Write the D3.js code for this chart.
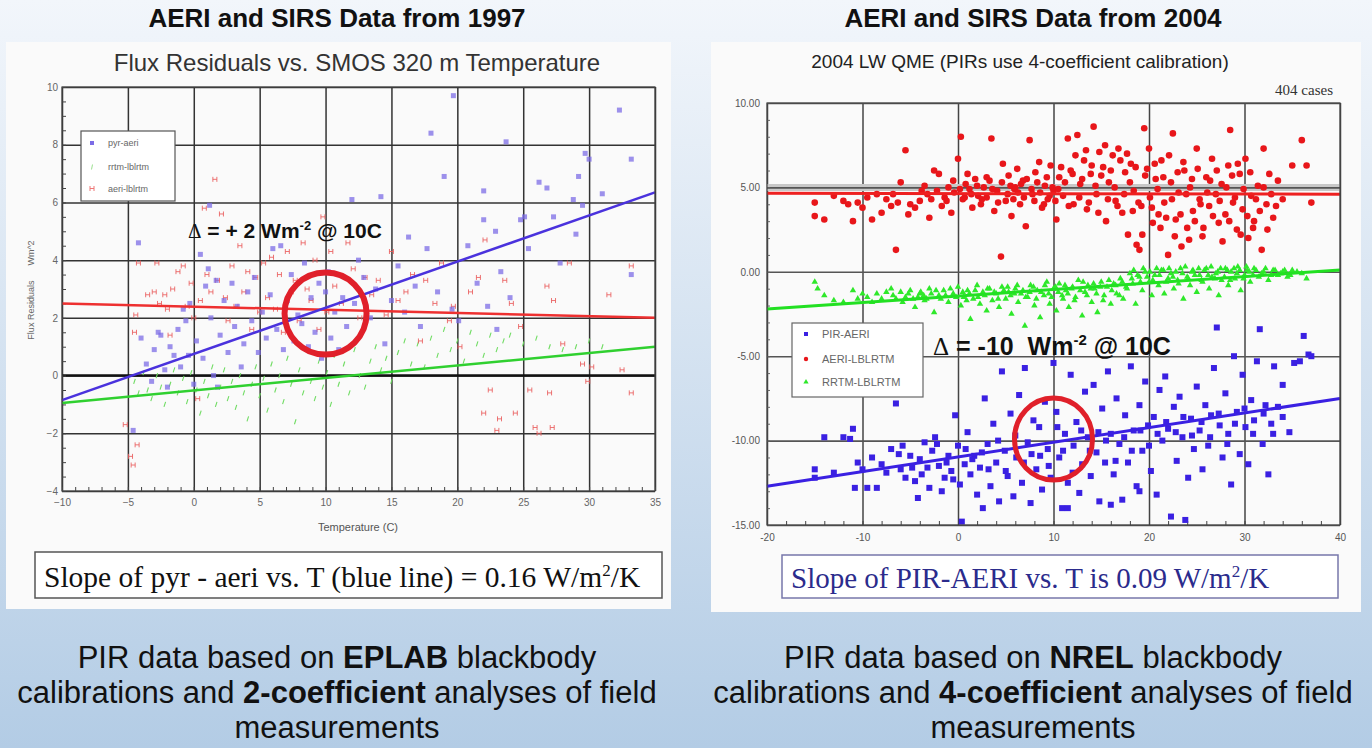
<!DOCTYPE html>
<html>
<head>
<meta charset="utf-8">
<script src="https://cdn.jsdelivr.net/npm/d3@7"></script>
<style>
  html, body { margin: 0; padding: 0; }
  body { width: 1372px; height: 748px; overflow: hidden; font-family: "Liberation Sans", Arial, sans-serif; }
</style>
</head>
<body>
<svg id="slide" width="1372" height="748"></svg>
<script>
// ---------- data: 1997 chart (left) ----------
const pyrAeri = [[-4.6,-1.9],[-4.2,4.6],[-4.0,1.3],[-3.6,0.4],[-3.2,-0.2],[-3.0,0.9],[-2.7,1.5],[-2.5,1.4],[-2.2,0.2],[-2.0,-0.4],[-1.8,1.0],[-1.5,0.7],[-1.2,1.6],[-1.0,0.3],[-0.8,2.3],[-0.6,1.9],[-0.4,0.7],[-0.3,2.5],[0.0,-0.3],[0.2,1.2],[0.5,4.2],[0.7,0.6],[0.9,3.1],[1.1,3.7],[1.2,5.9],[1.3,2.0],[1.5,0.0],[1.7,3.3],[1.8,-0.4],[2.0,1.4],[2.3,2.6],[2.6,0.8],[2.9,3.2],[3.1,1.7],[3.3,2.4],[3.6,0.3],[3.8,1.1],[4.1,2.9],[4.4,1.9],[4.6,3.4],[4.9,0.8],[5.2,2.2],[5.5,1.3],[5.8,2.8],[6.0,4.4],[6.3,1.6],[6.6,4.5],[6.8,0.9],[7.1,2.6],[7.4,3.5],[7.6,1.2],[7.9,2.1],[8.2,1.8],[8.4,3.9],[8.7,1.0],[8.9,2.7],[9.2,1.5],[9.5,3.2],[9.7,0.6],[10.0,2.9],[10.2,3.6],[10.4,1.3],[10.7,2.2],[11.0,0.9],[11.3,2.7],[11.6,1.7],[12.0,6.1],[12.2,2.5],[12.5,4.0],[12.9,3.4],[13.4,2.0],[13.8,3.0],[14.2,6.2],[14.5,1.1],[15.0,2.6],[15.5,3.8],[16.0,2.2],[16.3,4.8],[16.8,3.1],[17.2,1.7],[17.7,4.4],[18.0,8.4],[18.5,2.9],[19.0,6.9],[19.6,2.3],[19.7,9.7],[20.1,1.9],[20.8,4.5],[21.5,3.2],[22.0,5.4],[22.0,6.4],[22.3,2.4],[22.9,5.0],[23.0,1.6],[23.3,3.6],[23.7,8.1],[24.0,2.7],[24.8,5.4],[25.1,5.5],[25.4,4.4],[26.2,6.7],[26.8,6.5],[27.3,5.5],[27.8,3.9],[28.8,6.1],[29.0,4.9],[29.2,6.9],[29.5,5.9],[29.7,7.7],[30.0,7.5],[31.0,6.3],[32.3,9.2],[33.2,7.5],[33.2,3.5]];
const rrtmLblrtm = [[-4.5,-0.2],[-4.2,-0.6],[-3.8,0.1],[-3.5,-0.5],[-3.2,-0.8],[-2.8,0.0],[-2.5,-0.4],[-2.2,-1.0],[-1.8,-0.3],[-1.5,0.2],[-1.2,-0.6],[-0.8,-0.1],[-0.5,-0.9],[-0.2,0.1],[0.2,-0.5],[0.5,-1.3],[0.8,-0.2],[1.1,-0.7],[1.4,0.3],[1.7,-1.0],[2.0,-0.4],[2.3,0.2],[2.6,-0.8],[2.9,-0.2],[3.2,-1.1],[3.5,0.0],[3.8,-0.6],[4.1,-1.5],[4.4,-0.3],[4.7,0.3],[5.0,-0.7],[5.3,-0.1],[5.6,-1.2],[5.9,0.4],[6.2,-0.5],[6.5,0.0],[6.8,-0.9],[7.1,0.6],[7.4,-0.3],[7.7,-1.6],[8.0,0.2],[8.3,-0.6],[8.6,0.9],[8.9,-0.2],[9.2,-0.8],[9.5,0.5],[9.8,-0.4],[10.1,0.1],[10.4,-1.0],[10.7,0.7],[11.0,-0.3],[11.4,0.4],[11.8,-0.6],[12.2,0.9],[12.6,0.0],[13.0,-0.4],[13.4,0.5],[13.8,1.0],[14.2,0.2],[14.6,0.6],[15.0,-0.2],[15.5,0.8],[16.0,1.2],[16.5,0.4],[17.0,1.1],[17.5,0.3],[18.0,1.3],[18.5,0.7],[19.0,1.6],[19.5,0.9],[20.0,1.2],[20.5,0.5],[21.0,1.5],[21.5,1.1],[22.0,0.7],[22.5,1.4],[23.0,0.9],[23.5,1.2],[24.0,1.4],[25.0,1.1],[26.0,1.3],[27.0,1.0],[28.0,0.9],[29.0,1.0],[30.0,1.2],[31.0,1.0]];
const aeriLblrtm = [[-5.2,-1.7],[-4.8,-2.8],[-4.6,-3.1],[-4.3,-2.4],[-4.5,1.5],[-4.2,3.9],[-4.4,2.1],[-3.5,2.8],[-3.0,2.9],[-2.8,3.9],[-2.6,2.5],[-2.2,2.8],[-2.0,2.3],[-1.8,1.4],[-1.6,3.0],[-1.2,3.6],[-0.8,3.8],[-0.5,2.4],[-0.2,3.2],[0.0,2.0],[0.3,-0.8],[0.5,2.6],[0.8,5.8],[1.0,3.5],[1.3,2.9],[1.6,6.8],[1.8,3.3],[2.1,5.6],[2.4,2.7],[2.6,1.9],[2.9,3.8],[3.2,2.4],[3.5,4.5],[3.8,2.9],[4.1,3.6],[4.4,1.6],[4.7,3.4],[5.0,2.2],[5.3,3.9],[5.6,2.7],[5.9,4.1],[6.2,2.3],[6.5,3.5],[6.8,1.5],[7.1,4.3],[7.4,2.9],[7.7,3.3],[8.0,1.9],[8.3,4.6],[8.6,3.0],[8.9,2.6],[9.2,4.0],[9.5,1.6],[9.8,5.5],[10.1,2.2],[10.4,4.3],[10.7,3.1],[11.2,2.5],[11.7,4.6],[12.1,3.7],[12.6,2.0],[13.0,3.4],[13.5,2.8],[14.0,3.3],[14.6,2.1],[15.0,4.3],[15.5,2.6],[16.1,2.9],[16.6,3.5],[17.2,1.2],[17.6,3.3],[18.3,2.5],[18.8,3.9],[19.4,1.9],[19.7,2.4],[20.2,1.0],[21.0,2.9],[21.6,3.4],[22.0,-1.3],[22.1,4.7],[22.5,-0.5],[23.0,-1.9],[23.2,-1.5],[23.6,3.3],[24.1,2.5],[24.4,-1.3],[24.8,1.7],[25.5,-0.5],[25.9,-1.8],[26.2,-2.0],[26.8,3.1],[27.0,-0.6],[27.2,-1.8],[27.3,2.6],[28.0,1.1],[28.5,3.9],[29.5,0.4],[29.9,-0.2],[30.2,0.3],[31.5,2.8],[32.5,0.2],[33.2,3.8],[33.2,-0.6]];
const fitPyrAeri = [[-10,-0.85],[35,6.35]];
const fitRrtm = [[-10,-0.95],[35,1.0]];
const fitAeri = [[-10,2.5],[35,2.0]];
const xTicksL = [-10,-5,0,5,10,15,20,25,30,35];
const yTicksL = [-4,-2,0,2,4,6,8,10];

// ---------- data: 2004 chart (right) ----------
const pirAeri = [[-15,-11.7],[-15,-12.2],[-14,-9.8],[-12,-9.8],[-11.3,-9.9],[-11,-9.3],[-10.8,-12.8],[-10.5,-11.3],[-9.5,-12.8],[-9,-11],[-8.5,-12.8],[-8,-11.4],[-7,-10.5],[-6.5,-7.8],[-6.2,-10.8],[-6,-11.7],[-5.5,-12.2],[-5,-10.9],[-4.5,-12.4],[-4.2,-13.4],[-4,-11.1],[-3.5,-10.1],[-3.2,-11.6],[-3,-12.8],[-2.7,-10.6],[-2.4,-9.8],[-2,-11.5],[-1.7,-13.0],[-1.4,-12.2],[-1,-10.9],[-0.7,-11.8],[-0.3,-8.5],[0,-10.3],[0.2,-12.6],[0.4,-14.8],[0.7,-11.4],[1,-9.5],[1.3,-12.0],[1.7,-10.9],[2,-13.2],[2.3,-11.6],[2.6,-14.0],[2.8,-7.5],[3.1,-10.2],[3.4,-12.7],[3.7,-9.0],[4,-11.3],[4.3,-13.6],[4.6,-5.9],[4.9,-10.6],[5.2,-12.1],[5.5,-8.4],[5.8,-13.3],[6.1,-11.0],[6.4,-7.3],[6.7,-12.5],[7,-5.7],[7.3,-10.1],[7.6,-13.7],[7.9,-8.8],[8.2,-11.7],[8.5,-9.2],[8.8,-12.9],[9.1,-7.7],[9.4,-10.5],[9.7,-12.2],[10,-5.4],[10.3,-8.3],[10.6,-11.0],[10.9,-14.0],[11.2,-9.6],[11.5,-12.5],[11.8,-6.1],[12.1,-10.3],[12.4,-8.9],[12.7,-13.1],[13,-11.4],[13.3,-7.1],[13.6,-9.8],[13.9,-12.1],[14.2,-6.7],[14.5,-10.7],[14.8,-13.6],[15.1,-8.1],[15.4,-11.3],[15.7,-5.9],[16,-9.6],[16.3,-12.0],[16.6,-7.5],[16.9,-10.2],[17.2,-13.5],[17.5,-8.5],[17.8,-11.3],[18.1,-5.6],[18.4,-9.4],[18.7,-12.7],[19,-7.9],[19.3,-10.6],[19.6,-6.5],[19.9,-9.1],[20.2,-11.8],[20.5,-8.6],[20.8,-13.2],[21.1,-7.0],[21.4,-10.0],[21.7,-6.2],[22,-9.3],[22.3,-14.5],[22.6,-8.0],[22.9,-11.2],[23.2,-7.4],[23.5,-9.8],[23.8,-14.7],[24.1,-12.2],[24.4,-8.7],[24.7,-10.5],[25,-6.8],[25.3,-9.4],[25.6,-11.7],[25.9,-7.9],[26.2,-10.3],[26.5,-8.5],[26.8,-5.7],[27.1,-3.3],[27.4,-9.1],[27.7,-11.0],[28,-7.2],[28.3,-9.6],[28.6,-12.6],[28.9,-5.0],[29.2,-8.3],[29.5,-10.8],[29.8,-6.1],[30.1,-9.2],[30.4,-11.4],[30.7,-7.6],[31,-8.8],[31.3,-5.3],[31.6,-3.4],[31.9,-10.2],[32.2,-7.9],[32.5,-12.0],[32.8,-9.0],[33.1,-5.6],[33.5,-8.0],[34,-6.7],[34.7,-9.5],[35.2,-5.4],[35.8,-5.3],[36.2,-3.8],[36.7,-4.9],[37,-5.0],
  [-13,-11.9],[-10,-11.7],[-7.5,-11.9],[-5.8,-10.3],[-4.8,-11.6],[-3.8,-12.0],[-2.2,-10.2],[-1.2,-11.3],[-0.5,-12.3],[0.8,-10.5],[1.5,-11.1],[2.5,-10.7],[3.2,-11.7],[4.2,-10.0],[5.0,-11.8],[6.0,-9.7],[6.9,-11.3],[7.7,-10.8],[8.6,-10.9],[9.5,-11.5],[10.4,-9.2],[11.0,-10.6],[12.0,-11.9],[12.9,-9.4],[13.8,-10.6],[14.7,-9.5],[15.5,-10.0],[16.5,-11.2],[17.4,-9.8],[18.2,-10.6],[19.1,-9.4],[20.0,-10.3],[20.9,-9.6],[21.8,-8.9],[22.8,-9.5],[23.6,-8.6],[24.5,-9.7],[25.5,-8.9],[26.4,-9.8],[27.3,-8.4],[28.2,-10.2],[29.0,-9.0],[30.0,-8.1],[30.9,-9.6],[32.0,-8.4],[33.0,-9.6],[34.0,-8.6],[16.0,-13.8],[19.0,-13.0],[11.5,-14.0]];
const aeriLbl = [[-15,4.1],[-15,3.3],[-14,3.1],[-12,4.2],[-11.5,4.0],[-11,3.0],[-10.5,4.1],[-10,3.8],[-9,3.1],[-8.5,4.6],[-8,3.5],[-7.5,4.3],[-7,3.9],[-6.5,1.3],[-6.3,4.1],[-6,5.3],[-5.5,7.2],[-5.2,3.4],[-5,4.0],[-4.5,3.8],[-4,4.2],[-3.5,5.1],[-3.2,4.6],[-3,3.2],[-2.5,6.0],[-2.2,4.8],[-2,5.8],[-1.7,3.9],[-1.4,4.4],[-1,5.0],[-0.7,3.5],[-0.4,4.7],[0,6.7],[0.3,8.0],[0.5,4.3],[0.8,5.2],[1.2,4.9],[1.5,3.8],[1.8,5.5],[2.1,4.5],[2.4,4.0],[2.7,5.0],[3.0,4.4],[3.3,5.4],[3.5,7.9],[3.8,3.6],[4.1,4.8],[4.5,0.9],[4.7,6.4],[5.0,4.2],[5.3,5.7],[5.6,3.3],[5.9,4.9],[6.2,6.1],[6.5,4.0],[6.8,5.4],[7.1,2.7],[7.5,7.8],[7.8,4.6],[8.1,5.9],[8.5,6.5],[8.8,3.8],[9.1,5.1],[9.4,4.3],[9.7,6.3],[10,4.8],[10.3,3.1],[10.6,5.6],[11,4.5],[11.5,7.9],[11.8,6.0],[12.1,4.0],[12.5,8.1],[12.8,5.2],[13.2,6.6],[13.5,3.7],[13.9,5.8],[14.2,8.6],[14.5,4.6],[14.8,7.1],[15.2,6.2],[15.5,3.0],[15.8,5.3],[16.2,6.9],[16.5,4.2],[16.8,7.3],[17.2,3.5],[17.5,5.9],[17.8,2.2],[18.1,6.4],[18.4,4.8],[18.7,1.6],[19,1.3],[19.2,3.9],[19.5,8.5],[19.8,6.1],[20.1,4.4],[20.4,2.9],[20.7,5.5],[21,3.4],[21.3,6.6],[21.6,4.1],[22,1.0],[22.3,5.3],[22.5,8.2],[22.8,3.1],[23.1,4.7],[23.4,1.5],[23.7,6.0],[24,2.6],[24.3,5.0],[24.6,3.6],[25,7.3],[25.3,4.3],[25.6,2.1],[26,5.6],[26.3,3.9],[26.6,6.7],[27,4.6],[27.3,2.9],[27.6,5.2],[28,3.4],[28.3,6.3],[28.5,8.4],[28.8,4.1],[29.2,2.5],[29.5,5.8],[29.8,3.7],[30.1,6.7],[30.4,2.0],[30.7,4.5],[31,3.0],[31.4,5.1],[31.8,1.3],[32,7.3],[32.3,4.0],[32.6,5.8],[33,3.2],[33.5,5.4],[34,4.3],[35,6.3],[36,7.8],[36.5,6.3],[37,4.1],
  [5.2,4.6],[5.5,5.1],[5.8,4.3],[6.0,5.0],[6.3,4.7],[6.6,5.2],[6.9,4.4],[7.2,5.5],[7.7,4.9],[8.0,4.2],[8.3,5.3],[8.6,4.7],[9.0,4.0],[9.3,5.6],[9.6,4.5],[9.9,5.0],[10.2,4.2],[10.5,4.9],[10.8,6.2],[11.2,5.3],[11.6,3.9],[12.0,5.8],[12.3,6.9],[12.7,4.4],[13.0,5.5],[13.4,7.2],[13.7,4.1],[14.0,6.3],[14.4,5.1],[14.7,3.5],[15.0,5.7],[15.4,7.5],[15.7,4.3],[16.0,6.0],[16.4,5.0],[16.7,3.9],[17.0,6.6],[17.4,4.6],[17.7,7.0],[18.0,5.3],[18.3,3.6],[18.6,6.2],[18.9,4.1],[19.3,2.2],[19.6,5.7],[20.0,7.3],[20.3,3.8],[20.6,6.4],[20.9,4.9],[21.2,2.6],[21.5,5.6],[21.8,3.2],[22.1,6.9],[22.4,4.3],[22.7,2.1],[23.0,5.9],[23.3,3.4],[23.6,6.5],[23.9,4.6],[24.2,1.9],[24.5,5.5],[24.8,3.0],[25.1,6.1],[25.4,4.0],[25.7,2.6],[26.1,4.7],[26.4,5.4],[26.7,3.3],[27.1,6.0],[27.4,4.2],[27.7,1.8],[28.1,5.0],[28.4,3.0],[28.7,5.7],[29.0,4.4],[29.3,6.4],[29.6,2.2],[29.9,4.9],[30.3,3.3],[30.6,5.9],[30.9,2.6],[31.2,4.3],[31.6,3.6],[32.0,5.0],[32.4,2.5],[32.8,4.6],[33.3,3.9],[-1.2,4.2],[-0.5,5.4],[0.2,4.9],[0.7,4.4],[1.0,5.8],[1.4,4.6],[2.0,5.1],[2.5,4.3],[3.0,5.6],[3.6,4.9],[4.2,4.1],[4.6,5.3],[-3.8,4.8],[-2.8,4.3],[-6.8,4.6],[-9.5,4.4],[-13,4.5]];
const rrtmLbl = [[-15,-0.6],[-14.7,-1.0],[-14,-1.4],[-12,-1.8],[-11,-1.1],[-10,-1.3],[-9,-1.8],[-8,-1.6],[-7.5,-1.2],[-7,-1.0],[-6.5,-1.6],[-6,-1.2],[-5.5,-1.5],[-5,-1.1],[-4.5,-2.1],[-4,-1.3],[-3.5,-1.7],[-3,-1.0],[-2.5,-2.4],[-2,-1.4],[-1.5,-1.1],[-1,-1.8],[-0.5,-1.3],[0,-0.9],[0.3,-2.0],[0.6,-1.5],[1,-1.1],[1.3,-2.8],[1.6,-1.6],[2,-0.8],[2.3,-1.9],[2.6,-1.2],[3,-2.3],[3.3,-1.0],[3.6,-1.7],[4,-1.3],[4.3,-2.1],[4.6,-0.9],[5,-1.6],[5.3,-1.2],[5.6,-2.5],[6,-1.0],[6.3,-1.8],[6.6,-1.3],[7,-3.2],[7.3,-1.5],[7.6,-0.8],[8,-2.0],[8.3,-1.1],[8.6,-2.7],[9,-1.4],[9.3,-0.6],[9.6,-1.9],[10,-1.0],[10.3,-2.3],[10.6,-0.7],[11,-1.6],[11.3,-1.1],[11.6,-2.1],[12,-0.9],[12.3,-1.5],[12.6,-0.5],[13,-2.6],[13.3,-1.2],[13.6,-0.8],[14,-1.8],[14.3,-1.0],[14.6,-2.4],[15,-0.6],[15.3,-1.4],[15.6,-0.9],[16,-1.9],[16.3,-0.7],[16.6,-1.3],[17,-0.4],[17.3,-1.6],[17.6,-0.9],[18,-0.1],[18.3,-0.7],[18.6,-1.9],[19,-0.3],[19.3,-1.1],[19.6,0.0],[20,-0.6],[20.3,-1.4],[20.6,-0.2],[21,-0.8],[21.3,0.1],[21.6,-1.3],[22,-0.4],[22.3,-0.1],[22.6,-1.0],[23,-0.5],[23.3,0.2],[23.6,-1.6],[24,-0.3],[24.3,-0.8],[24.6,0.1],[25,-1.2],[25.3,-0.2],[25.6,-0.6],[26,0.2],[26.3,-1.0],[26.6,-0.3],[27,-0.1],[27.3,-1.4],[27.6,-0.5],[28,0.2],[28.3,-0.8],[28.6,0.0],[29,-0.4],[29.3,0.3],[29.6,-1.1],[30,-0.2],[30.3,0.1],[30.6,-0.6],[31,0.2],[31.5,-0.3],[32,0.0],[32.5,-0.5],[33,0.1],[33.5,-0.2],[34,0.0],[34.5,-0.3],[35,0.1],[36,-0.1],[36.5,-0.4],
  [-4.2,-1.5],[-3.9,-1.2],[-3.6,-1.4],[-3.3,-1.6],[-2.8,-1.3],[-2.3,-1.1],[-1.8,-1.6],[-1.3,-1.4],[-0.8,-1.0],[-0.2,-1.5],[0.5,-1.2],[0.9,-1.7],[1.2,-1.3],[1.8,-1.1],[2.1,-1.5],[2.8,-1.4],[3.1,-1.0],[3.8,-1.2],[4.2,-1.6],[4.8,-1.1],[5.2,-0.9],[5.5,-1.4],[5.9,-1.3],[6.2,-0.8],[6.8,-1.1],[7.1,-1.5],[7.5,-1.2],[7.9,-0.9],[8.2,-1.6],[8.7,-1.2],[9.1,-0.8],[9.5,-1.3],[9.8,-1.5],[10.2,-0.9],[10.5,-1.2],[10.9,-1.4],[11.2,-0.8],[11.5,-1.3],[11.9,-1.0],[12.2,-1.7],[12.8,-1.1],[13.1,-0.6],[13.5,-1.4],[13.9,-1.0],[14.2,-0.7],[14.5,-1.3],[14.9,-0.9],[15.2,-1.7],[15.8,-0.5],[16.1,-1.1],[16.5,-0.8],[16.9,-1.4],[17.2,-0.6],[17.7,-1.0],[18.2,-0.4],[18.4,0.1],[18.8,-0.2],[19.1,-0.6],[19.4,0.2],[19.8,-0.3],[20.1,0.0],[20.4,-0.5],[20.8,0.2],[21.1,-0.2],[21.5,0.1],[21.8,-0.6],[22.1,0.2],[22.5,-0.3],[22.8,0.0],[23.1,-0.7],[23.5,-0.1],[23.8,0.3],[24.1,-0.4],[24.5,0.0],[24.8,-0.2],[25.2,0.2],[25.5,-0.5],[25.8,0.1],[26.2,-0.2],[26.5,0.3],[26.9,-0.4],[27.2,0.0],[27.5,0.2],[27.9,-0.3],[28.2,0.1],[28.5,-0.5],[28.9,0.2],[29.2,-0.1],[29.5,0.1],[29.9,-0.4],[30.2,0.3],[30.5,0.0],[30.9,-0.2],[31.2,0.1],[31.8,-0.1],[32.2,0.2],[32.8,-0.2],[33.2,0.1],[33.8,-0.1],[34.2,0.1],[34.8,-0.2],[35.5,0.0],[-9.5,-1.5],[-8.5,-1.3],[-6.8,-1.4],[-5.8,-1.8],[-5.2,-1.3],[-4.7,-1.6],[-13,-1.7],[-10.5,-1.6]];
const fitPirAeri = [[-20,-12.7],[40,-7.5]];
const fitAeriLbl = [[-20,4.65],[40,4.6]];
const fitRrtmLbl = [[-20,-2.2],[40,0.1]];
const xTicksR = [-20,-10,0,10,20,30,40];
const yTicksR = [-15,-10,-5,0,5,10];

const svg = d3.select("#slide");

// background gradient
const defs = svg.append("defs");
const grad = defs.append("linearGradient").attr("id","bg").attr("x1",0).attr("y1",0).attr("x2",0).attr("y2",1);
grad.append("stop").attr("offset","0%").attr("stop-color","#f2f6fb");
grad.append("stop").attr("offset","100%").attr("stop-color","#b3cce5");
svg.append("rect").attr("width",1372).attr("height",748).attr("fill","url(#bg)");

// headers
svg.append("text").attr("x",337).attr("y",27).attr("text-anchor","middle")
  .attr("font-size","26px").attr("font-weight","bold").attr("fill","#111").text("AERI and SIRS Data from 1997");
svg.append("text").attr("x",1033).attr("y",27).attr("text-anchor","middle")
  .attr("font-size","26px").attr("font-weight","bold").attr("fill","#111").text("AERI and SIRS Data from 2004");

// white panels
svg.append("rect").attr("x",6).attr("y",42).attr("width",665).attr("height",567).attr("fill","#fafafa");
svg.append("rect").attr("x",711).attr("y",42).attr("width",650).attr("height",570).attr("fill","#fafafa");

// ================= LEFT CHART =================
const xL = d3.scaleLinear().domain([-10,35]).range([62,655]);
const yL = d3.scaleLinear().domain([-4,10]).range([491,87]);
const left = svg.append("g");

left.append("text").attr("x",357).attr("y",71).attr("text-anchor","middle")
  .attr("font-size","24px").attr("fill","#333").text("Flux Residuals vs. SMOS 320 m Temperature");

// grid
left.append("g").attr("transform",`translate(0,${yL(-4)})`)
  .call(d3.axisBottom(xL).tickValues(xTicksL).tickSize(-(yL(-4)-yL(10))).tickFormat(""))
  .call(g => g.select(".domain").remove())
  .call(g => g.selectAll("line").attr("stroke","#333").attr("stroke-width",1.5));
left.append("g").attr("transform",`translate(${xL(-10)},0)`)
  .call(d3.axisLeft(yL).tickValues(yTicksL).tickSize(-(xL(35)-xL(-10))).tickFormat(""))
  .call(g => g.select(".domain").remove())
  .call(g => g.selectAll("line").attr("stroke","#333").attr("stroke-width",1.5));
left.append("line").attr("x1",xL(-10)).attr("x2",xL(35)).attr("y1",yL(0)).attr("y2",yL(0))
  .attr("stroke","#111").attr("stroke-width",2.5);

// minor ticks
left.append("g").attr("transform",`translate(0,${yL(-4)})`)
  .call(d3.axisTop(xL).tickValues(d3.range(-10,36,1)).tickSize(4).tickFormat(""))
  .call(g => g.select(".domain").remove())
  .call(g => g.selectAll("line").attr("stroke","#444"));
left.append("g").attr("transform",`translate(${xL(-10)},0)`)
  .call(d3.axisRight(yL).tickValues(d3.range(-4,10.01,0.5)).tickSize(4).tickFormat(""))
  .call(g => g.select(".domain").remove())
  .call(g => g.selectAll("line").attr("stroke","#444"));

// tick labels
left.append("g").attr("transform",`translate(0,${yL(-4)})`)
  .call(d3.axisBottom(xL).tickValues(xTicksL).tickSize(0).tickPadding(8))
  .call(g => g.select(".domain").remove())
  .call(g => g.selectAll("text").attr("fill","#666").attr("font-size","10px").attr("font-family","Liberation Sans, Arial"));
left.append("g").attr("transform",`translate(${xL(-10)},0)`)
  .call(d3.axisLeft(yL).tickValues(yTicksL).tickSize(0).tickPadding(4))
  .call(g => g.select(".domain").remove())
  .call(g => g.selectAll("text").attr("fill","#666").attr("font-size","10px").attr("font-family","Liberation Sans, Arial"));

left.append("text").attr("x",358).attr("y",531).attr("text-anchor","middle")
  .attr("font-size","11px").attr("fill","#555").text("Temperature (C)");
left.append("text").attr("transform","translate(34,290) rotate(-90)").attr("text-anchor","middle")
  .attr("font-size","9px").attr("fill","#666").attr("xml:space","preserve").text("Flux Residuals      Wm^2");

// points
left.append("g").selectAll("path").data(rrtmLblrtm).join("path")
  .attr("d", d => `M${xL(d[0])-0.8},${yL(d[1])+2.5}L${xL(d[0])+0.8},${yL(d[1])-2.5}`)
  .attr("stroke","#6fdc62").attr("stroke-width",1.1).attr("fill","none");
left.append("g").selectAll("path").data(aeriLblrtm).join("path")
  .attr("d", d => { const x = xL(d[0]), y = yL(d[1]); return `M${x-2},${y-2.5}v5M${x+2},${y-2.5}v5M${x-2},${y}h4`; })
  .attr("stroke","#ea5d5d").attr("stroke-width",1).attr("fill","none").attr("opacity",0.85);
left.append("g").selectAll("rect").data(pyrAeri).join("rect")
  .attr("x", d => xL(d[0])-2.5).attr("y", d => yL(d[1])-2.5).attr("width",5).attr("height",5)
  .attr("fill","#7c6ce6").attr("opacity",0.75);

// regression lines
const lineL = d3.line().x(d => xL(d[0])).y(d => yL(d[1]));
left.append("path").datum(fitAeri).attr("d",lineL).attr("stroke","#ee3030").attr("stroke-width",2.5).attr("fill","none");
left.append("path").datum(fitRrtm).attr("d",lineL).attr("stroke","#30d030").attr("stroke-width",2.5).attr("fill","none");
left.append("path").datum(fitPyrAeri).attr("d",lineL).attr("stroke","#4a32dd").attr("stroke-width",2.5).attr("fill","none");

// frame
left.append("rect").attr("x",xL(-10)).attr("y",yL(10)).attr("width",xL(35)-xL(-10)).attr("height",yL(-4)-yL(10))
  .attr("fill","none").attr("stroke","#444").attr("stroke-width",1.2);

// legend
const legL = left.append("g").attr("transform","translate(81,131)");
legL.append("rect").attr("width",94).attr("height",70).attr("fill","#fff").attr("stroke","#555").attr("stroke-width",1.2);
legL.append("rect").attr("x",9).attr("y",10).attr("width",4).attr("height",4).attr("fill","#7c6ce6");
legL.append("path").attr("d","M10.5,38.5L11.5,33.5").attr("stroke","#9be08f");
legL.append("path").attr("d","M9,55v5M13,55v5M9,57.5h4").attr("stroke","#ee7777");
[["pyr-aeri",15],["rrtm-lblrtm",39],["aeri-lblrtm",61]].forEach(([t,y]) =>
  legL.append("text").attr("x",27).attr("y",y).attr("font-size","9px").attr("fill","#666").text(t));

// annotation
const annL = left.append("text").attr("x",188).attr("y",238).attr("font-size","21px").attr("font-weight","bold").attr("fill","#111");
annL.append("tspan").attr("font-weight","normal").attr("font-family","Liberation Serif, Times New Roman").text("\u0394");
annL.append("tspan").text(" = + 2 Wm");
annL.append("tspan").attr("font-size","13px").attr("dy",-8).text("-2");
annL.append("tspan").attr("dy",8).text(" @ 10C");

left.append("ellipse").attr("cx",xL(10)).attr("cy",yL(2.15)).attr("rx",41).attr("ry",41)
  .attr("fill","none").attr("stroke","#e0202a").attr("stroke-width",6);

// slope box
left.append("rect").attr("x",35).attr("y",552).attr("width",627).attr("height",46).attr("fill","#fff").attr("stroke","#555").attr("stroke-width",1.5);
const sL = left.append("text").attr("x",44).attr("y",587).attr("font-family","Liberation Serif, Times New Roman, serif")
  .attr("font-size","29.5px").attr("fill","#111");
sL.append("tspan").text("Slope of pyr - aeri vs. T (blue line) = 0.16 W/m");
sL.append("tspan").attr("font-size","17px").attr("dy",-11).text("2");
sL.append("tspan").attr("dy",11).text("/K");

// ================= RIGHT CHART =================
const xR = d3.scaleLinear().domain([-20,40]).range([767,1340]);
const yR = d3.scaleLinear().domain([-15,10]).range([525,103]);
const right = svg.append("g");

right.append("text").attr("x",1020).attr("y",68).attr("text-anchor","middle")
  .attr("font-size","19px").attr("fill","#222").text("2004 LW QME (PIRs use 4-coefficient calibration)");
right.append("text").attr("x",1333).attr("y",95).attr("text-anchor","end")
  .attr("font-family","Liberation Serif, Times New Roman, serif").attr("font-size","15px").attr("fill","#333").text("404 cases");

right.append("g").attr("transform",`translate(0,${yR(-15)})`)
  .call(d3.axisBottom(xR).tickValues(xTicksR).tickSize(-(yR(-15)-yR(10))).tickFormat(""))
  .call(g => g.select(".domain").remove())
  .call(g => g.selectAll("line").attr("stroke","#444").attr("stroke-width",1.5));
right.append("line").attr("x1",xR(-20)).attr("x2",xR(40)).attr("y1",yR(5)).attr("y2",yR(5))
  .attr("stroke","#c8c8c8").attr("stroke-width",7);
right.append("g").attr("transform",`translate(${xR(-20)},0)`)
  .call(d3.axisLeft(yR).tickValues(yTicksR).tickSize(-(xR(40)-xR(-20))).tickFormat(""))
  .call(g => g.select(".domain").remove())
  .call(g => g.selectAll("line").attr("stroke","#555").attr("stroke-width",1.6));

right.append("g").attr("transform",`translate(0,${yR(-15)})`)
  .call(d3.axisTop(xR).tickValues(d3.range(-20,41,2)).tickSize(4).tickFormat(""))
  .call(g => g.select(".domain").remove())
  .call(g => g.selectAll("line").attr("stroke","#444"));
right.append("g").attr("transform",`translate(${xR(-20)},0)`)
  .call(d3.axisRight(yR).tickValues(d3.range(-15,10.01,1)).tickSize(3).tickFormat(""))
  .call(g => g.select(".domain").remove())
  .call(g => g.selectAll("line").attr("stroke","#666"));

right.append("g").attr("transform",`translate(0,${yR(-15)})`)
  .call(d3.axisBottom(xR).tickValues(xTicksR).tickSize(0).tickPadding(9).tickFormat(d => String(d)))
  .call(g => g.select(".domain").remove())
  .call(g => g.selectAll("text").attr("fill","#555").attr("font-size","10px").attr("font-family","Liberation Sans, Arial"));
right.append("g").attr("transform",`translate(${xR(-20)},0)`)
  .call(d3.axisLeft(yR).tickValues(yTicksR).tickSize(0).tickPadding(7).tickFormat(d => d.toFixed(2)))
  .call(g => g.select(".domain").remove())
  .call(g => g.selectAll("text").attr("fill","#555").attr("font-size","10px").attr("font-family","Liberation Sans, Arial"));

right.append("g").selectAll("path").data(rrtmLbl).join("path")
  .attr("transform", d => `translate(${xR(d[0])},${yR(d[1])})`)
  .attr("d", d3.symbol(d3.symbolTriangle).size(18)).attr("fill","#2ee82a");
right.append("g").selectAll("circle").data(aeriLbl).join("circle")
  .attr("cx", d => xR(d[0])).attr("cy", d => yR(d[1])).attr("r",3.3).attr("fill","#e8161a");
right.append("g").selectAll("rect").data(pirAeri).join("rect")
  .attr("x", d => xR(d[0])-3).attr("y", d => yR(d[1])-3).attr("width",6).attr("height",6).attr("fill","#3a20e2");

const lineR = d3.line().x(d => xR(d[0])).y(d => yR(d[1]));
right.append("path").datum(fitAeriLbl).attr("d",lineR).attr("stroke","#ee2020").attr("stroke-width",3).attr("fill","none");
right.append("path").datum(fitRrtmLbl).attr("d",lineR).attr("stroke","#22e022").attr("stroke-width",3).attr("fill","none");
right.append("path").datum(fitPirAeri).attr("d",lineR).attr("stroke","#3a20e2").attr("stroke-width",3).attr("fill","none");

right.append("rect").attr("x",xR(-20)).attr("y",yR(10)).attr("width",xR(40)-xR(-20)).attr("height",yR(-15)-yR(10))
  .attr("fill","none").attr("stroke","#444").attr("stroke-width",1.2);

// legend
const legR = right.append("g").attr("transform","translate(792,323)");
legR.append("rect").attr("width",131).attr("height",74).attr("fill","#fff").attr("stroke","#666").attr("stroke-width",1.2);
legR.append("rect").attr("x",12).attr("y",9).attr("width",4).attr("height",4).attr("fill","#3a20e2");
legR.append("circle").attr("cx",14).attr("cy",36).attr("r",2.2).attr("fill","#e8161a");
legR.append("path").attr("transform","translate(14,59)").attr("d",d3.symbol(d3.symbolTriangle).size(12)).attr("fill","#2ee82a");
[["PIR-AERI",15],["AERI-LBLRTM",40],["RRTM-LBLRTM",63]].forEach(([t,y]) =>
  legR.append("text").attr("x",30).attr("y",y).attr("font-size","11px").attr("fill","#666").text(t));

const annR = right.append("text").attr("x",933).attr("y",355).attr("font-size","25px").attr("font-weight","bold").attr("fill","#111");
annR.append("tspan").attr("font-weight","normal").attr("font-family","Liberation Serif, Times New Roman").text("\u0394");
annR.append("tspan").text(" = -10\u00a0 Wm");
annR.append("tspan").attr("font-size","15px").attr("dy",-10).text("-2");
annR.append("tspan").attr("dy",10).text(" @ 10C");

right.append("ellipse").attr("cx",xR(10)).attr("cy",yR(-9.9)).attr("rx",39).attr("ry",41)
  .attr("fill","none").attr("stroke","#e0202a").attr("stroke-width",5);

right.append("rect").attr("x",782).attr("y",555).attr("width",556).attr("height",43).attr("fill","#fff").attr("stroke","#7777aa").attr("stroke-width",1.5);
const sR = right.append("text").attr("x",791).attr("y",588).attr("font-family","Liberation Serif, Times New Roman, serif")
  .attr("font-size","29px").attr("fill","#2b2b8c");
sR.append("tspan").text("Slope of PIR-AERI vs. T is 0.09 W/m");
sR.append("tspan").attr("font-size","17px").attr("dy",-11).text("2");
sR.append("tspan").attr("dy",11).text("/K");

// ================= bottom captions =================
function caption(cx, boldWord, boldCoef) {
  const g = svg.append("g").attr("font-size","31px").attr("fill","#111");
  const t1 = g.append("text").attr("x",cx).attr("y",668).attr("text-anchor","middle");
  t1.append("tspan").text("PIR data based on ");
  t1.append("tspan").attr("font-weight","bold").text(boldWord);
  t1.append("tspan").text(" blackbody");
  const t2 = g.append("text").attr("x",cx).attr("y",703).attr("text-anchor","middle");
  t2.append("tspan").text("calibrations and ");
  t2.append("tspan").attr("font-weight","bold").text(boldCoef);
  t2.append("tspan").text(" analyses of field");
  g.append("text").attr("x",cx).attr("y",738).attr("text-anchor","middle").text("measurements");
}
caption(337, "EPLAB", "2-coefficient");
caption(1033, "NREL", "4-coefficient");
</script>
</body>
</html>
